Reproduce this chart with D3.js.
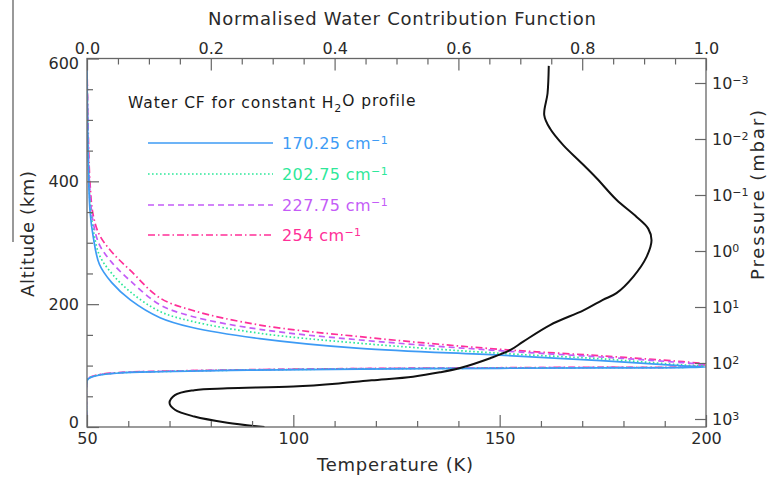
<!DOCTYPE html>
<html><head><meta charset="utf-8">
<script src="https://cdn.jsdelivr.net/npm/d3@7/dist/d3.min.js"></script>
<style>
html,body{margin:0;padding:0;background:#fff;}
svg text{font-family:"DejaVu Sans",sans-serif;}
</style></head>
<body><svg id="c" width="780" height="477"></svg>
<script>
// ---------- data ----------
const tempTicks = [50, 100, 150, 200];
const tempMinor = [60,70,80,90,110,120,130,140,160,170,180,190];
const cfTicks = [0.0, 0.2, 0.4, 0.6, 0.8, 1.0];
const cfMinor = [0.05,0.1,0.15,0.25,0.3,0.35,0.45,0.5,0.55,0.65,0.7,0.75,0.85,0.9,0.95];
const altTicks = [0, 200, 400, 600];
const altMinor = [50,100,150,250,300,350,450,500,550];
const pressureTicks = [1e-3, 1e-2, 1e-1, 1e0, 1e1, 1e2, 1e3];

// temperature profile (black)
const tempAlt = [0,7,17,28,39,52,60,63,66,71,76,82,89,96,112,125,139,166,190,207,218,245,277,304,323,342,370,405,432,459,486,508,543,588];
const tempK   = [93,84,76,71.3,70,71.3,76,84,100,111,119,129,135.5,140.4,147.7,152.5,155.7,162.2,170.3,175,178.3,182.4,185.6,186.8,186.0,183.2,178.3,173.5,169.5,165.4,162.2,160.8,161.6,161.9];

// contribution functions: upper branch (top -> peak) and lower branch (peak -> ground)
const cfUpperLevels = [0,0.002,0.005,0.01,0.02,0.04,0.07,0.118,0.17,0.279,0.441,0.667,0.83,0.963,1.0];
const cfLowerLevels = [0.963,0.83,0.667,0.441,0.26,0.118,0.053,0.021,0.008,0.002,0,0];

const wavenumbers = ["170.25", "202.75", "227.75", "254"];
const upperAlt170 = [590,430,350,310,265,235,207,178,162,144,128,117,108,99.5,97.5];
const upperAlt203 = [590,445,365,322,280,250,220,188,172,152.6,136.3,120,111,101,99];
const upperAlt228 = [590,460,380,333,297,268,238,199,180,159,141.7,124.2,114,104.7,101];
const upperAlt254 = [590,480,395,345,313,285,255,210,190,166,147,126.5,116,106.3,102];
const lowerAlt170 = [96.8,96.2,95.6,94.3,92.5,90,87.9,84.7,81.4,78.2,75,0];
const lowerAlt203 = [97.2,96.6,95.9,94.6,92.8,90.3,88.2,85,81.8,78.6,75.5,0];
const lowerAlt228 = [97.6,97,96.2,95,93.1,90.6,88.5,85.3,82.1,79,76,0];
const lowerAlt254 = [98,97.3,96.5,95.2,93.3,90.8,88.7,85.5,82.3,79.2,76.2,0];

const seriesColors = ["#3d9bf5", "#2ee89a", "#c45cf7", "#ff2f98"];
const seriesDash = [null, "1.6,2.4", "6,4", "7,3,1.5,3"];

// ---------- layout ----------
const L = 87, R = 706, T = 58.5, B = 427;
const svg = d3.select("#c");
const xT = d3.scaleLinear().domain([50,200]).range([L,R]);
const xC = d3.scaleLinear().domain([0,1]).range([L,R]);
const yA = d3.scaleLinear().domain([0,600]).range([B,T]);
const yP = d3.scaleLog().domain([1e-3,1e3]).range([83,419]);

const axisCol = "#666", textCol = "#2a2a2a";

// stray vertical line at far left of reference image
svg.append("line").attr("x1",13).attr("x2",13).attr("y1",0).attr("y2",242)
  .attr("stroke","#777").attr("stroke-width",1.5);

svg.append("defs").append("clipPath").attr("id","clip")
  .append("rect").attr("x",L).attr("y",T).attr("width",R-L).attr("height",B-T);

// ---------- curves ----------
const plot = svg.append("g").attr("clip-path","url(#clip)");
const cfUppers = [upperAlt170, upperAlt203, upperAlt228, upperAlt254];
const cfLowers = [lowerAlt170, lowerAlt203, lowerAlt228, lowerAlt254];
const cfLine = d3.line().x(d=>xC(d[0])).y(d=>yA(d[1])).curve(d3.curveCatmullRom.alpha(0.5));
[3,2,1,0].forEach(i=>{
  const pts = cfUpperLevels.map((c,k)=>[c,cfUppers[i][k]])
    .concat(cfLowerLevels.map((c,k)=>[c,cfLowers[i][k]]));
  plot.append("path").attr("d",cfLine(pts)).attr("fill","none")
    .attr("stroke",seriesColors[i]).attr("stroke-width",1.7)
    .attr("stroke-dasharray",seriesDash[i]);
});
const tLine = d3.line().x(d=>xT(d[0])).y(d=>yA(d[1])).curve(d3.curveCatmullRom.alpha(0.5));
plot.append("path").attr("d",tLine(tempK.map((t,k)=>[t,tempAlt[k]])))
  .attr("fill","none").attr("stroke","#111").attr("stroke-width",2);

// ---------- axes ----------
function styleAxis(g){
  g.selectAll("path.domain").remove();
  g.selectAll("line").attr("stroke",axisCol).attr("stroke-width",1.2);
  g.selectAll("text").attr("fill",textCol).attr("font-size",16).attr("font-family","DejaVu Sans");
}
svg.append("g").attr("transform",`translate(0,${B})`)
  .call(d3.axisBottom(xT).tickValues(tempTicks).tickSizeInner(-12).tickSizeOuter(0).tickPadding(6).tickFormat(d3.format("d"))).call(styleAxis);
svg.append("g").attr("transform",`translate(0,${B})`)
  .call(d3.axisBottom(xT).tickValues(tempMinor).tickSizeInner(-6).tickSizeOuter(0).tickFormat("")).call(styleAxis);
svg.append("g").attr("transform",`translate(0,${T})`)
  .call(d3.axisTop(xC).tickValues(cfTicks).tickSizeInner(-12).tickSizeOuter(0).tickPadding(5).tickFormat(d3.format(".1f"))).call(styleAxis);
svg.append("g").attr("transform",`translate(0,${T})`)
  .call(d3.axisTop(xC).tickValues(cfMinor).tickSizeInner(-6).tickSizeOuter(0).tickFormat("")).call(styleAxis);
const aAx = svg.append("g").attr("transform",`translate(${L},0)`)
  .call(d3.axisLeft(yA).tickValues(altTicks).tickSizeInner(-12).tickSizeOuter(0).tickPadding(8).tickFormat(d3.format("d"))).call(styleAxis);
aAx.selectAll(".tick text").attr("dy", d => d === 600 ? "0.62em" : d === 0 ? "0.05em" : "0.32em");
svg.append("g").attr("transform",`translate(${L},0)`)
  .call(d3.axisLeft(yA).tickValues(altMinor).tickSizeInner(-6).tickSizeOuter(0).tickFormat("")).call(styleAxis);
const pAx = svg.append("g").attr("transform",`translate(${R},0)`)
  .call(d3.axisRight(yP).tickValues(pressureTicks).tickSizeInner(-11).tickSizeOuter(0).tickPadding(6)).call(styleAxis);
pAx.selectAll(".tick text").each(function(d){
  const t = d3.select(this); t.text("");
  t.append("tspan").text("10");
  t.append("tspan").attr("dy","-0.45em").attr("font-size",11).text(String(Math.round(Math.log10(d))).replace("-","\u2212"));
});

// frame
svg.append("rect").attr("x",L).attr("y",T).attr("width",R-L).attr("height",B-T)
  .attr("fill","none").attr("stroke",axisCol).attr("stroke-width",1.3);

// ---------- titles ----------
svg.append("text").attr("x",402).attr("y",25).attr("text-anchor","middle")
  .attr("font-size",18).attr("fill",textCol).attr("textLength",388).attr("lengthAdjust","spacing")
  .text("Normalised Water Contribution Function");
svg.append("text").attr("x",395).attr("y",471).attr("text-anchor","middle")
  .attr("font-size",18).attr("fill",textCol).attr("textLength",156).attr("lengthAdjust","spacing")
  .text("Temperature (K)");
svg.append("text").attr("transform","translate(34,234) rotate(-90)").attr("text-anchor","middle")
  .attr("font-size",18).attr("fill",textCol).attr("textLength",126).attr("lengthAdjust","spacing")
  .text("Altitude (km)");
svg.append("text").attr("transform","translate(764,195) rotate(-90)").attr("text-anchor","middle")
  .attr("font-size",18).attr("fill",textCol).attr("textLength",170).attr("lengthAdjust","spacing")
  .text("Pressure (mbar)");

// ---------- legend ----------
const lg = svg.append("g");
const lt = lg.append("text").attr("x",128).attr("y",108).attr("font-size",15.5).attr("fill","#1a1a1a")
  .attr("letter-spacing",0.9);
lt.append("tspan").text("Water CF for constant H");
lt.append("tspan").attr("dy","0.35em").attr("font-size",11).text("2");
lt.append("tspan").attr("dy","-0.35em").text("O profile");
const legY = [143, 174, 205, 235];
wavenumbers.forEach((w,i)=>{
  lg.append("line").attr("x1",148).attr("x2",273).attr("y1",legY[i]).attr("y2",legY[i])
    .attr("stroke",seriesColors[i]).attr("stroke-width",1.7).attr("stroke-dasharray",seriesDash[i]);
  const t = lg.append("text").attr("x",282).attr("y",legY[i]+6).attr("font-size",16).attr("fill",seriesColors[i])
    .attr("letter-spacing",0.4);
  t.append("tspan").text(w+" cm");
  t.append("tspan").attr("dy","-0.5em").attr("font-size",11).text("\u22121");
});
</script></body></html>
